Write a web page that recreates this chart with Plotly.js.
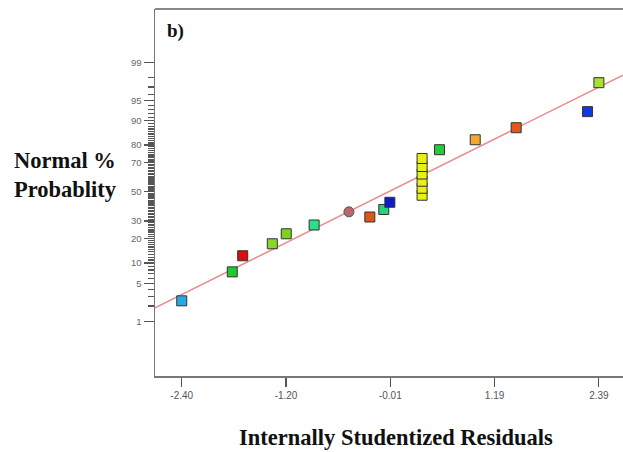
<!DOCTYPE html>
<html>
<head>
<meta charset="utf-8">
<script src="https://cdn.plot.ly/plotly-3.0.1.min.js"></script>
<style>html,body{margin:0;padding:0;background:#fff;}#chart{width:623px;height:452px;}</style>
</head>
<body>
<div id="chart"></div>
<script>
// ---- data ----
const residuals = [-2.40, -1.82, -1.70, -1.36, -1.20, -0.88, -0.24, -0.08, -0.01, 0.36, 0.36, 0.36, 0.36, 0.36, 0.36, 0.56, 0.97, 1.44, 2.26, 2.39];
const probabilities = [2.5, 7.5, 12.5, 17.5, 22.5, 27.5, 32.5, 37.5, 42.5, 47.5, 52.5, 57.5, 62.5, 67.5, 72.5, 77.5, 82.5, 87.5, 92.5, 97.5];
const pointColors = ["#2aa8e0", "#22c832", "#d81010", "#8ad62a", "#80d020", "#26e08a", "#e0561a", "#22d47a", "#0c1ec8",
  "#e8f018", "#e8f018", "#e8f018", "#e8f018", "#e8f018", "#e8f018", "#22cc3a", "#f0a830", "#e8561a", "#1038e0", "#a6e030"];
const extraResidual = [-0.48];
const extraProbability = [35.9];
const lineResiduals = [-2.707, 2.667];
const lineProbabilities = [1.84, 98.2];
const xTickVals = [-2.40, -1.2025, -0.005, 1.1925, 2.39];
const xTickText = ["-2.40", "-1.20", "-0.01", "1.19", "2.39"];
const yTickPercents = [1, 5, 10, 20, 30, 50, 70, 80, 90, 95, 99];

// inverse normal CDF (probability scale)
function probit(pct) {
  const p = pct / 100;
  const a = [-3.969683028665376e+01, 2.209460984245205e+02, -2.759285104469687e+02, 1.383577518672690e+02, -3.066479806614716e+01, 2.506628277459239e+00];
  const b = [-5.447609879822406e+01, 1.615858368580409e+02, -1.556989798598866e+02, 6.680131188771972e+01, -1.328068155288572e+01];
  const c = [-7.784894002430293e-03, -3.223964580411365e-01, -2.400758277161838e+00, -2.549732539343734e+00, 4.374664141464968e+00, 2.938163982698783e+00];
  const d = [7.784695709041462e-03, 3.224671290700398e-01, 2.445134137142996e+00, 3.754408661907416e+00];
  const pl = 0.02425, ph = 1 - pl;
  let q, r;
  if (p < pl) {
    q = Math.sqrt(-2 * Math.log(p));
    return (((((c[0]*q+c[1])*q+c[2])*q+c[3])*q+c[4])*q+c[5]) / ((((d[0]*q+d[1])*q+d[2])*q+d[3])*q+1);
  } else if (p <= ph) {
    q = p - 0.5; r = q * q;
    return (((((a[0]*r+a[1])*r+a[2])*r+a[3])*r+a[4])*r+a[5])*q / (((((b[0]*r+b[1])*r+b[2])*r+b[3])*r+b[4])*r+1);
  } else {
    q = Math.sqrt(-2 * Math.log(1 - p));
    return -(((((c[0]*q+c[1])*q+c[2])*q+c[3])*q+c[4])*q+c[5]) / ((((d[0]*q+d[1])*q+d[2])*q+d[3])*q+1);
  }
}

const minorPercents = [];
for (let i = 1; i <= 99; i++) if (yTickPercents.indexOf(i) < 0) minorPercents.push(i);

const traces = [
  {
    x: lineResiduals, y: lineProbabilities.map(probit), mode: "lines", type: "scatter",
    line: { color: "#e88c8c", width: 1.5 }, hoverinfo: "skip"
  },
  {
    x: residuals, y: probabilities.map(probit), mode: "markers", type: "scatter",
    marker: { symbol: "square", size: 10, color: pointColors, line: { color: "#333333", width: 1 } },
    hoverinfo: "skip"
  },
  {
    x: extraResidual, y: extraProbability.map(probit), mode: "markers", type: "scatter",
    marker: { symbol: "circle", size: 10, color: "#b86a6a", line: { color: "#555555", width: 1 } },
    hoverinfo: "skip"
  }
];

const serif = "Liberation Serif, Times New Roman, serif";
const layout = {
  width: 623, height: 452,
  margin: { l: 155, r: 0, t: 9, b: 76 },
  paper_bgcolor: "#ffffff", plot_bgcolor: "#ffffff",
  showlegend: false,
  xaxis: {
    range: [-2.707, 2.667], showgrid: false, zeroline: false,
    showline: true, linecolor: "#777777", linewidth: 1.5,
    tickmode: "array", tickvals: xTickVals, ticktext: xTickText,
    ticks: "outside", ticklen: 9, tickwidth: 1.2, tickcolor: "#555555",
    tickfont: { family: "Liberation Sans, Arial, sans-serif", size: 10, color: "#555555" }
  },
  yaxis: {
    range: [-3.311, 3.284], showgrid: false, zeroline: false,
    showline: true, linecolor: "#777777", linewidth: 1.5,
    tickmode: "array", tickvals: yTickPercents.map(probit), ticktext: yTickPercents.map(String),
    ticks: "outside", ticklen: 10, tickwidth: 1.2, tickcolor: "#555555",
    tickfont: { family: "Liberation Sans, Arial, sans-serif", size: 9.5, color: "#666666" },
    minor: { tickmode: "array", tickvals: minorPercents.map(probit), ticks: "outside", ticklen: 6,
             tickcolor: "#555555", showgrid: true, gridcolor: "rgba(0,0,0,0)" }
  },
  shapes: [
    { type: "line", xref: "paper", yref: "paper", x0: 0, x1: 1, y0: 1, y1: 1, line: { color: "#888888", width: 2 } }
  ],
  annotations: [
    { text: "<b>b)</b>", xref: "paper", yref: "paper", x: 0.021, y: 0.94, xanchor: "left", yanchor: "middle",
      showarrow: false, font: { family: serif, size: 19, color: "#111111" } },
    { text: "<b>Normal %<br>Probablity</b>", xref: "paper", yref: "paper", x: -0.306, y: 0.547, xanchor: "left", yanchor: "middle",
      align: "left", showarrow: false, font: { family: serif, size: 22.5, color: "#111111" } },
    { text: "<b>Internally Studentized Residuals</b>", xref: "paper", yref: "paper", x: 0.515, y: -0.167, xanchor: "center", yanchor: "middle",
      showarrow: false, font: { family: serif, size: 22.5, color: "#111111" } }
  ]
};

Plotly.newPlot("chart", traces, layout, { staticPlot: true, displayModeBar: false });
</script>
</body>
</html>
